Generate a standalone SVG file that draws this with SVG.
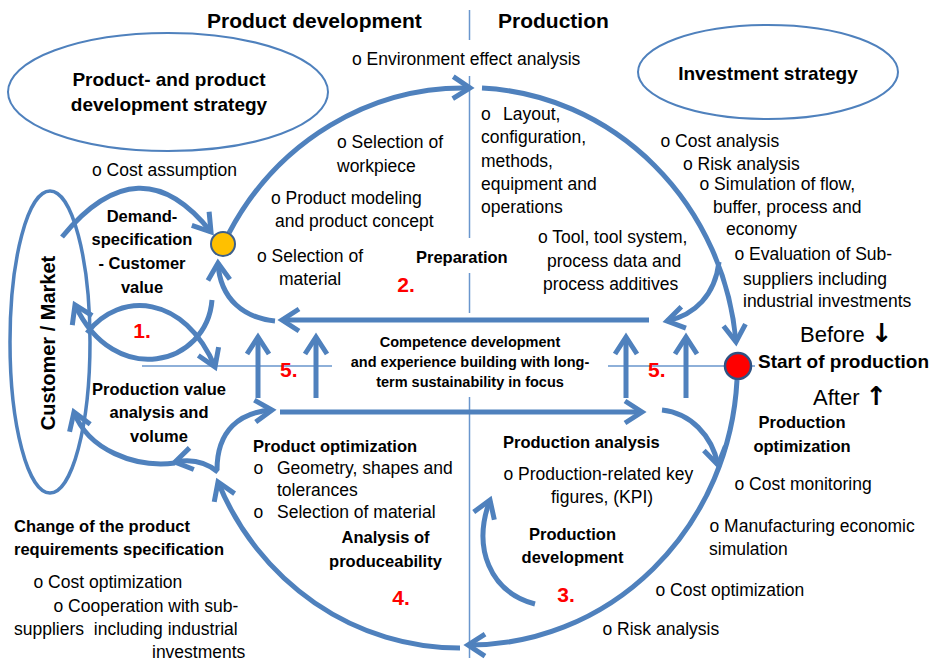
<svg xmlns="http://www.w3.org/2000/svg" width="932" height="661" viewBox="0 0 932 661">
<defs>
<style>
text{font-family:"Liberation Sans",Arial,sans-serif;fill:#000}
.t{font-size:17.5px}
.b{font-size:16.5px;font-weight:bold}
.h{font-size:21px;font-weight:bold}
.e{font-size:19px;font-weight:bold}
.s{font-size:14.5px;font-weight:bold}
.n{font-size:21px;font-weight:bold;fill:#FF0000}
.c{text-anchor:middle}
.big{font-size:22px}
.arw{font-family:"DejaVu Sans",sans-serif;font-weight:bold;font-size:26px}
.ar{fill:none;stroke:#4F81BD;stroke-width:5;marker-end:url(#ah)}
.thin{fill:none;stroke:#6A96CD;stroke-width:1.5}
.ell{fill:none;stroke:#4F81BD;stroke-width:2}
</style>
<marker id="ah" markerUnits="userSpaceOnUse" orient="auto" overflow="visible" markerWidth="1" markerHeight="1" refX="0" refY="0"><path d="M-17,-11 L0,0 L-17,11" fill="none" stroke="#4F81BD" stroke-width="5"/></marker>
</defs>
<rect width="932" height="661" fill="#fff"/>

<g id="product-strategy">
<ellipse class="ell" cx="168" cy="92" rx="160" ry="59"/>
<text class="e c" x="169" y="86">Product- and product</text>
<text class="e c" x="169" y="111">development strategy</text>
</g>
<g id="investment-strategy">
<ellipse class="ell" cx="768" cy="72" rx="130" ry="47"/>
<text class="e c" x="768" y="80">Investment strategy</text>
</g>
<g id="customer-market">
<ellipse cx="50" cy="342" rx="40" ry="151" fill="none" stroke="#4F81BD" stroke-width="3.5"/>
<text class="c" x="55" y="343" transform="rotate(-90 55 343)" style="font-size:20px;font-weight:bold">Customer / Market</text>
</g>

<g id="connectors">
<path class="thin" d="M469.5,10V40 M469.5,76V238 M469.5,273V313 M469.5,397V658 M142,366H332 M608,366H755"/>
<path class="ar" d="M229,233 A268,280 0 0 1 470,88"/>
<path class="ar" d="M482,88 A268,280 0 0 1 736,342"/>
<path class="ar" d="M737,380 A268,280 0 0 1 468,645"/>
<path class="ar" d="M460,648 A262,272 0 0 1 218,482"/>
<path class="ar" d="M649,320 H282"/>
<path class="ar" d="M280,412 H642"/>
<path class="ar" d="M258,398 V337"/>
<path class="ar" d="M316,398 V337"/>
<path class="ar" d="M626,398 V337"/>
<path class="ar" d="M686,398 V337"/>
<path class="ar" d="M275,321 C245,318 220,300 218,263"/>
<path class="ar" d="M62,237 Q140,142 211,232"/>
<path class="ar" d="M87,333 C120,290 185,295 215,367"/>
<path class="ar" d="M212,300 C207,365 115,390 75,305"/>
<path class="ar" d="M218,472 Q200,457 175,462"/>
<path class="ar" d="M175,463 C135,468 88,450 74,412"/>
<path class="ar" d="M217,470 C217,430 240,412 272,410"/>
<path class="ar" d="M719,262 C715,295 695,315 667,321"/>
<path class="ar" d="M662,410 C690,413 712,435 718,465"/>
<path class="ar" d="M535,604 C490,592 472,548 490,500"/>
</g>

<g id="demand-point">
<circle cx="223" cy="244" r="12" fill="#FFC000" stroke="#3D5F8A" stroke-width="2"/>
</g>
<g id="start-of-production">
<circle cx="738" cy="366" r="13" fill="#FF0000" stroke="#2E5283" stroke-width="2.5"/>
<text x="758" y="368" style="font-size:19px;font-weight:bold">Start of production</text>
<text class="big" x="800" y="342">Before <tspan class="arw">↓</tspan></text>
<text class="big" x="813" y="405">After <tspan class="arw">↑</tspan></text>
</g>

<g id="headers">
<text class="h" x="207" y="28">Product development</text>
<text class="h" x="498" y="28">Production</text>
</g>

<g id="demand-specification">
<text class="b c" x="142" y="222">Demand-</text>
<text class="b c" x="142" y="245">specification</text>
<text class="b c" x="142" y="269">- Customer</text>
<text class="b c" x="142" y="293">value</text>
<text class="t" x="92" y="176">o Cost assumption</text>
<text class="n c" x="142" y="338">1.</text>
</g>

<g id="preparation">
<text class="t" x="352" y="65">o Environment effect analysis</text>
<text class="t" x="337" y="148">o Selection of</text>
<text class="t" x="337" y="172">workpiece</text>
<text class="t" x="271" y="204">o Product modeling</text>
<text class="t" x="275" y="227">and product concept</text>
<text class="t" x="257" y="262">o Selection of</text>
<text class="t" x="279" y="285">material</text>
<text class="b" x="416" y="263">Preparation</text>
<text class="n c" x="406" y="292">2.</text>
<text class="t" x="481" y="120">o<tspan x="503">Layout,</tspan></text>
<text class="t" x="481" y="143">configuration,</text>
<text class="t" x="481" y="167">methods,</text>
<text class="t" x="481" y="190">equipment and</text>
<text class="t" x="481" y="213">operations</text>
<text class="t" x="538" y="243">o Tool, tool system,</text>
<text class="t" x="547" y="267">process data and</text>
<text class="t" x="543" y="290">process additives</text>
</g>

<g id="investment-items">
<text class="t" x="660.5" y="147">o Cost analysis</text>
<text class="t" x="683" y="170">o Risk analysis</text>
<text class="t" x="699.5" y="190">o Simulation of flow,</text>
<text class="t" x="713" y="213">buffer, process and</text>
<text class="t" x="726" y="235">economy</text>
<text class="t" x="734.5" y="260">o Evaluation of Sub-</text>
<text class="t" x="743" y="285">suppliers including</text>
<text class="t" x="743" y="307">industrial investments</text>
</g>

<g id="competence">
<text class="s c" x="470" y="347">Competence development</text>
<text class="s c" x="470" y="367">and experience building with long-</text>
<text class="s c" x="470" y="387">term sustainability in focus</text>
<text class="n" x="280" y="377">5.</text>
<text class="n" x="648" y="377">5.</text>
</g>

<g id="production-value">
<text class="b c" x="159" y="395">Production value</text>
<text class="b c" x="159" y="418">analysis and</text>
<text class="b c" x="159" y="442">volume</text>
</g>

<g id="product-optimization">
<text class="b" x="253" y="452">Product optimization</text>
<text class="t" x="253.5" y="474">o<tspan x="277">Geometry, shapes and</tspan></text>
<text class="t" x="277" y="496">tolerances</text>
<text class="t" x="253.5" y="518">o<tspan x="277">Selection of material</tspan></text>
<text class="b c" x="385.5" y="543">Analysis of</text>
<text class="b c" x="385.5" y="567">produceability</text>
<text class="n c" x="401" y="605">4.</text>
</g>

<g id="change-requirements">
<text class="b" x="14" y="532">Change of the product</text>
<text class="b" x="14" y="555">requirements specification</text>
<text class="t" x="33.5" y="588">o Cost optimization</text>
<text class="t" x="53.5" y="612">o Cooperation with sub-</text>
<text class="t" x="14" y="635" xml:space="preserve" style="white-space:pre">suppliers  including industrial</text>
<text class="t" x="152" y="658">investments</text>
</g>

<g id="production-analysis">
<text class="b" x="503" y="448">Production analysis</text>
<text class="t" x="503.5" y="480">o Production-related key</text>
<text class="t" x="551" y="503">figures, (KPI)</text>
<text class="b c" x="572.5" y="540">Production</text>
<text class="b c" x="572.5" y="563">development</text>
<text class="n c" x="566" y="602">3.</text>
</g>

<g id="production-optimization">
<text class="b c" x="802" y="428">Production</text>
<text class="b c" x="802" y="452">optimization</text>
<text class="t" x="734.5" y="490">o Cost monitoring</text>
<text class="t" x="709.5" y="532">o Manufacturing economic</text>
<text class="t" x="709" y="555">simulation</text>
<text class="t" x="655.5" y="596">o Cost optimization</text>
<text class="t" x="602.5" y="635">o Risk analysis</text>
</g>
</svg>
